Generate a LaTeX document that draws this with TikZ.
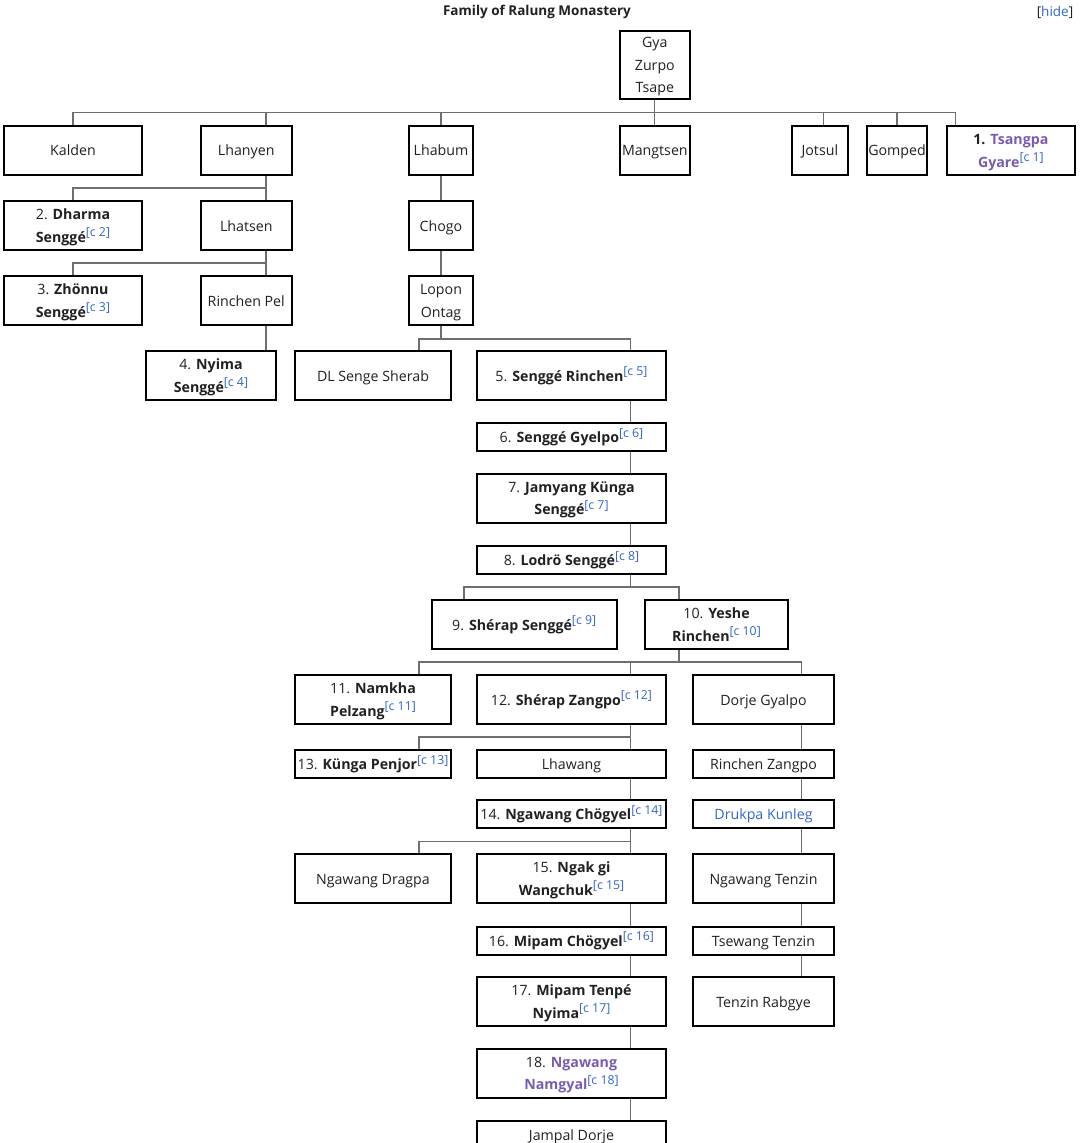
\documentclass[tikz,border=0pt]{standalone}
\usepackage{fontspec}
\setmainfont{Open Sans}
\definecolor{txt}{HTML}{202122}
\definecolor{lnk}{HTML}{3366CC}
\definecolor{vis}{HTML}{795CB2}
\definecolor{connc}{HTML}{6E6E6E}
\newcommand\cnote[1]{{\mdseries\fontsize{12.3}{12.3}\selectfont\raisebox{5.5pt}{\color{lnk}[c~#1]}}}
\newcommand\bx[6]{\node[box, minimum width={#4-#2-2}, minimum height={#5-#3-2}] (#1) at ({(#2+#4)/2},{(#3+#5)/2}) {\rule{0pt}{14.5pt}#6\rule[-3.3pt]{0pt}{3.3pt}};}
\tikzset{
  box/.style={draw=black, line width=2pt, fill=white, inner sep=0pt, align=center, text=txt, font=\fontsize{14.2}{22.5}\selectfont},
  cline/.style={draw=connc, line width=1.1pt},
  ttl/.style={inner sep=0pt, text=txt, font=\fontsize{13.5}{16}\selectfont}
}
\begin{document}
\begin{tikzpicture}[x=1pt,y=-1pt]
\useasboundingbox[fill=white] (0,0) rectangle (1080,1143);
\node[ttl] (title) at (537,12) {\bfseries Family of Ralung Monastery};
\node[ttl] (hide) at (1055,12) {[{\color{lnk}hide}]};
% column / bar helper coordinates
\coordinate (x266) at (266,0);
\coordinate (x419) at (419,0);
\coordinate (x464) at (464,0);
\coordinate (x631) at (630.7,0);
\coordinate (x679) at (679,0);
\coordinate (x802) at (801.7,0);
\coordinate (x824) at (823.7,0);
\coordinate (x956) at (955.7,0);
\coordinate (y112) at (0,112.3);
\coordinate (y188) at (0,188);
\coordinate (y263) at (0,263);
\coordinate (y339) at (0,339);
\coordinate (y587) at (0,587);
\coordinate (y662) at (0,662);
\coordinate (y737) at (0,737);
\coordinate (y842) at (0,841.7);
% boxes
\bx{gya}{619}{29.5}{690.7}{100}{Gya\\Zurpo\\Tsape}
\bx{kalden}{3}{124.5}{143}{176}{Kalden}
\bx{lhanyen}{200}{124.5}{292.5}{176}{Lhanyen}
\bx{lhabum}{408}{124.5}{474}{176}{Lhabum}
\bx{mangtsen}{619}{124.5}{690.7}{176}{Mangtsen}
\bx{jotsul}{790.7}{124.5}{849}{176}{Jotsul}
\bx{gomped}{865.7}{124.5}{928.3}{176}{Gomped}
\bx{tsangpa}{945.7}{124.5}{1076}{176}{\textbf{1. {\color{vis}Tsangpa}}\\{\color{vis}\textbf{Gyare}}\cnote{1}}
\bx{dharma}{3}{200}{143}{251}{2. \textbf{Dharma}\\\textbf{Senggé}\cnote{2}}
\bx{lhatsen}{200}{200}{292.5}{251}{Lhatsen}
\bx{chogo}{408}{200}{474}{251}{Chogo}
\bx{zhonnu}{3}{275}{143}{326}{3. \textbf{Zhönnu}\\\textbf{Senggé}\cnote{3}}
\bx{rinchenpel}{200}{275}{292.5}{326}{Rinchen Pel}
\bx{lopon}{408}{275}{474}{326}{Lopon\\Ontag}
\bx{nyima}{145}{350}{277}{401}{4. \textbf{Nyima}\\\textbf{Senggé}\cnote{4}}
\bx{dl}{294}{350}{452}{401}{DL Senge Sherab}
\bx{sr5}{476}{350}{667}{401}{5. \textbf{Senggé Rinchen}\cnote{5}}
\bx{gy6}{476}{422}{667}{452}{6. \textbf{Senggé Gyelpo}\cnote{6}}
\bx{jk7}{476}{472.5}{667}{523.5}{7. \textbf{Jamyang Künga}\\\textbf{Senggé}\cnote{7}}
\bx{ls8}{476}{545}{667}{575}{8. \textbf{Lodrö Senggé}\cnote{8}}
\bx{ss9}{430.7}{599}{617.7}{650}{9. \textbf{Shérap Senggé}\cnote{9}}
\bx{yr10}{644}{599}{789}{650}{10. \textbf{Yeshe}\\\textbf{Rinchen}\cnote{10}}
\bx{nk11}{294}{674}{452}{725}{11. \textbf{Namkha}\\\textbf{Pelzang}\cnote{11}}
\bx{sz12}{476}{674}{667}{725}{12. \textbf{Shérap Zangpo}\cnote{12}}
\bx{dg}{692}{674}{835}{725}{Dorje Gyalpo}
\bx{kp13}{294}{749}{452}{779}{13. \textbf{Künga Penjor}\cnote{13}}
\bx{lw}{476}{749}{667}{779}{Lhawang}
\bx{rz}{692}{749}{835}{779}{Rinchen Zangpo}
\bx{nc14}{476}{799}{667}{829}{14. \textbf{Ngawang Chögyel}\cnote{14}}
\bx{dk}{692}{799}{835}{829}{{\color{lnk}Drukpa Kunleg}}
\bx{ngd}{294}{853}{452}{904}{Ngawang Dragpa}
\bx{ng15}{476}{853}{667}{904}{15. \textbf{Ngak gi}\\\textbf{Wangchuk}\cnote{15}}
\bx{nt}{692}{853}{835}{904}{Ngawang Tenzin}
\bx{mc16}{476}{925.5}{667}{955.5}{16. \textbf{Mipam Chögyel}\cnote{16}}
\bx{tt}{692}{925.5}{835}{955.5}{Tsewang Tenzin}
\bx{mt17}{476}{976}{667}{1027}{17. \textbf{Mipam Tenpé}\\\textbf{Nyima}\cnote{17}}
\bx{tr}{692}{976}{835}{1027}{Tenzin Rabgye}
\bx{nn18}{476}{1047.5}{667}{1098.5}{18. {\color{vis}\textbf{Ngawang}}\\{\color{vis}\textbf{Namgyal}}\cnote{18}}
\bx{jd}{476}{1120}{667}{1150}{Jampal Dorje}
% connectors: top generation
\draw[cline] (gya.south) -- (gya.south |- y112);
\draw[cline] (y112 -| kalden) -- (y112 -| x956);
\draw[cline] (y112 -| kalden) -- (kalden.north);
\draw[cline] (y112 -| x266) -- (lhanyen.north -| x266);
\draw[cline] (y112 -| lhabum) -- (lhabum.north);
\draw[cline] (y112 -| mangtsen) -- (mangtsen.north);
\draw[cline] (y112 -| x824) -- (jotsul.north -| x824);
\draw[cline] (y112 -| gomped) -- (gomped.north);
\draw[cline] (y112 -| x956) -- (tsangpa.north -| x956);
% Lhanyen line
\draw[cline] (lhanyen.south -| x266) -- (lhatsen.north -| x266);
\draw[cline] (dharma.north) |- (y188 -| x266);
\draw[cline] (lhatsen.south -| x266) -- (rinchenpel.north -| x266);
\draw[cline] (zhonnu.north) |- (y263 -| x266);
\draw[cline] (rinchenpel.south -| x266) -- (nyima.north -| x266);
% Lhabum line
\draw[cline] (lhabum.south) -- (chogo.north);
\draw[cline] (chogo.south) -- (lopon.north);
\draw[cline] (lopon.south) -- (lopon.south |- y339);
\draw[cline] (dl.north -| x419) |- (y339 -| x631) -- (sr5.north -| x631);
\draw[cline] (sr5.south -| x631) -- (gy6.north -| x631);
\draw[cline] (gy6.south -| x631) -- (jk7.north -| x631);
\draw[cline] (jk7.south -| x631) -- (ls8.north -| x631);
\draw[cline] (ls8.south -| x631) -- (y587 -| x631);
\draw[cline] (ss9.north -| x464) |- (y587 -| x679) -- (yr10.north -| x679);
\draw[cline] (yr10.south -| x679) -- (y662 -| x679);
\draw[cline] (nk11.north -| x419) |- (y662 -| x802) -- (dg.north -| x802);
\draw[cline] (y662 -| x631) -- (sz12.north -| x631);
\draw[cline] (sz12.south -| x631) -- (lw.north -| x631);
\draw[cline] (kp13.north -| x419) |- (y737 -| x631);
\draw[cline] (lw.south -| x631) -- (nc14.north -| x631);
\draw[cline] (nc14.south -| x631) -- (ng15.north -| x631);
\draw[cline] (ngd.north -| x419) |- (y842 -| x631);
\draw[cline] (ng15.south -| x631) -- (mc16.north -| x631);
\draw[cline] (mc16.south -| x631) -- (mt17.north -| x631);
\draw[cline] (mt17.south -| x631) -- (nn18.north -| x631);
\draw[cline] (nn18.south -| x631) -- (jd.north -| x631);
% Dorje line
\draw[cline] (dg.south -| x802) -- (rz.north -| x802);
\draw[cline] (rz.south -| x802) -- (dk.north -| x802);
\draw[cline] (dk.south -| x802) -- (nt.north -| x802);
\draw[cline] (nt.south -| x802) -- (tt.north -| x802);
\draw[cline] (tt.south -| x802) -- (tr.north -| x802);
\end{tikzpicture}
\end{document}
